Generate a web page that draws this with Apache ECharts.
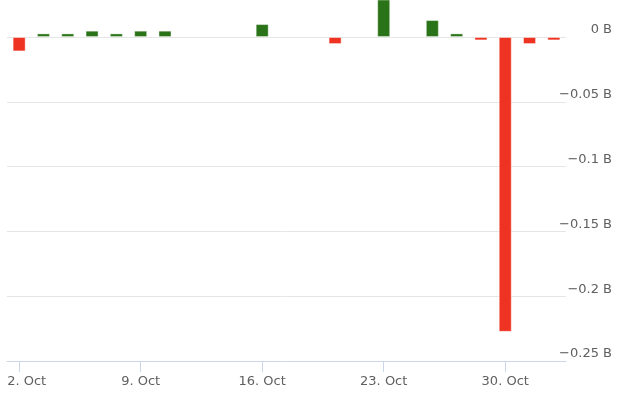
<!DOCTYPE html>
<html>
<head>
<meta charset="utf-8">
<script src="https://cdn.jsdelivr.net/npm/echarts@6/dist/echarts.min.js"></script>
<style>
html,body{margin:0;padding:0;background:#fff;}
#chart{width:640px;height:402px;}
</style>
</head>
<body>
<div id="chart"></div>
<script>
// Trading days (weekends skipped)
const categories = ['2. Oct','3. Oct','4. Oct','5. Oct','6. Oct',
  '9. Oct','10. Oct','11. Oct','12. Oct','13. Oct',
  '16. Oct','17. Oct','18. Oct','19. Oct','20. Oct',
  '23. Oct','24. Oct','25. Oct','26. Oct','27. Oct',
  '30. Oct','31. Oct','1. Nov'];
// Values in billions
const values = [-0.0111, 0.0028, 0.0028, 0.0049, 0.0028,
  0.0049, 0.0049, null, null, null,
  0.0100, null, null, -0.0054, null,
  0.0310, null, 0.0131, 0.0028, -0.0026,
  -0.2275, -0.0054, -0.0026];
const yTicks = [0, -0.05, -0.1, -0.15, -0.2, -0.25];

const FONT = 'DejaVu Sans';
const chart = echarts.init(document.getElementById('chart'), null, {renderer: 'canvas'});
const isMonday = (i) => i % 5 === 0;
chart.setOption({
  animation: false,
  grid: {left: 7, right: 74, top: 0, bottom: 41, containLabel: false},
  xAxis: {
    type: 'category',
    data: categories,
    boundaryGap: true,
    axisLine: {onZero: false, lineStyle: {color: '#ccd6eb', width: 1}},
    axisTick: {show: true, alignWithLabel: true, interval: isMonday, length: 11, lineStyle: {color: '#ccd6eb'}},
    axisLabel: {
      interval: isMonday,
      color: '#606060',
      fontFamily: FONT,
      fontSize: 13,
      margin: 14,
      formatter: function (v, i) { return i === 0 ? '{first|' + v + '}' : v; },
      rich: {first: {padding: [0, 0, 0, 15], color: '#606060', fontFamily: FONT, fontSize: 13}}
    },
    splitLine: {show: false}
  },
  yAxis: {
    type: 'value',
    position: 'right',
    min: -0.25,
    max: 0.02857,
    interval: 0.05,
    axisLine: {show: false},
    axisTick: {show: false},
    splitLine: {show: true, showMaxLine: false, lineStyle: {color: '#e6e6e6', width: 1}},
    axisLabel: {
      showMaxLabel: false,
      align: 'right',
      verticalAlign: 'bottom',
      lineHeight: 14,
      margin: 46,
      color: '#606060',
      fontFamily: FONT,
      fontSize: 13,
      formatter: function (v) {
        const t = yTicks.find(function (x) { return Math.abs(x - v) < 1e-6; });
        if (t === undefined) return '';
        return (t === 0 ? '0' : String(t)).replace('-', '\u2212') + ' B';
      }
    }
  },
  series: [{
    type: 'bar',
    data: values,
    barWidth: 13,
    clip: true,
    itemStyle: {
      color: function (p) { return p.value >= 0 ? '#2b7318' : '#ef3322'; },
      borderColor: 'rgba(255,255,255,0.4)',
      borderWidth: 1
    }
  }]
});
</script>
</body>
</html>
